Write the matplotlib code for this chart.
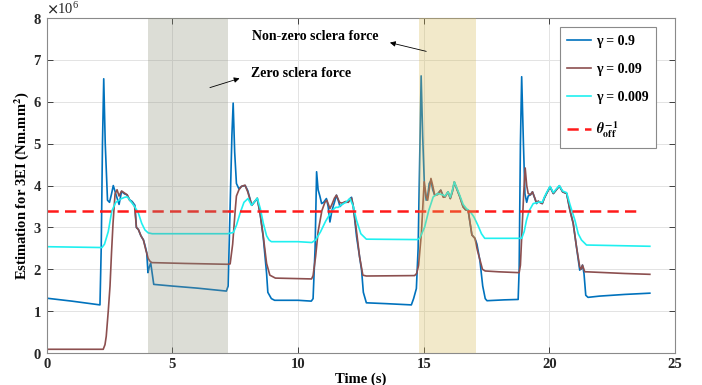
import matplotlib
matplotlib.use("Agg")
import matplotlib.pyplot as plt
import numpy as np
from matplotlib.ticker import ScalarFormatter

plt.rcParams['font.family'] = ['Liberation Serif', 'DejaVu Serif']
plt.rcParams['mathtext.fontset'] = 'stix'
plt.rcParams['font.weight'] = 'bold'

# gamma = 0.9 (values in 1e6)
t_g1 = [0, 1.0, 2.12, 2.17, 2.22, 2.27, 2.33, 2.42, 2.5, 2.58, 2.65, 2.75, 2.88, 2.98, 3.1,
        3.2, 3.3, 3.4, 3.51, 3.57, 3.65, 3.75, 3.85, 3.92, 3.98, 4.03, 4.08, 4.14, 4.2, 4.26,
        5.0, 6.0, 7.15, 7.22, 7.3, 7.37, 7.42, 7.48, 7.55, 7.65, 7.75, 7.9, 8.0, 8.16, 8.28,
        8.38, 8.5, 8.62, 8.75, 8.8, 8.94, 9.07, 10.0, 10.53, 10.6, 10.68, 10.74, 10.8, 10.87,
        10.94, 11.02, 11.13, 11.2, 11.27, 11.35, 11.45, 11.53, 11.6, 11.67, 11.75, 11.85, 11.95,
        12.05, 12.13, 12.2, 12.33, 12.45, 12.53, 12.6, 12.72, 13.5, 14.51, 14.6, 14.71, 14.78,
        14.84, 14.9, 14.96, 15.03, 15.1, 15.16, 15.22, 15.29, 15.36, 15.44, 15.55, 15.68, 15.78,
        15.85, 15.97, 16.06, 16.14, 16.22, 16.3, 16.44, 16.57, 16.67, 16.77, 16.85, 16.92, 17.04,
        17.12, 17.24, 17.35, 17.45, 17.52, 18.2, 18.76, 18.8, 18.85, 18.9, 18.97, 19.03, 19.1,
        19.16, 19.25, 19.33, 19.42, 19.49, 19.56, 19.62, 19.72, 19.8, 19.89, 20.03, 20.16, 20.28,
        20.4, 20.53, 20.69, 20.82, 20.95, 21.08, 21.21, 21.27, 21.32, 21.38, 21.45, 21.54, 22.0,
        23.0, 24.0]
v_g1 = [1.31, 1.24, 1.15, 2.5, 5.0, 6.55, 5.0, 3.65, 3.6, 3.8, 4.0, 3.8, 3.55, 3.86, 3.8,
        3.78, 3.66, 3.62, 3.53, 3.0, 2.95, 2.8, 2.7, 2.55, 2.4, 1.92, 2.05, 2.15, 1.9, 1.64,
        1.6, 1.55, 1.48, 1.6, 3.5, 5.2, 5.97, 4.8, 4.05, 3.92, 3.98, 4.0, 3.88, 3.53, 3.62,
        3.68, 3.3, 2.75, 1.9, 1.45, 1.3, 1.26, 1.26, 1.24, 1.3, 2.5, 4.33, 3.9, 3.75,
        3.57, 3.6, 3.69, 3.5, 3.13, 3.4, 3.6, 3.77, 3.65, 3.5, 3.55, 3.6, 3.6,
        3.68, 3.72, 3.5, 2.78, 2.3, 1.98, 1.45, 1.2, 1.18, 1.15, 1.3, 1.54, 2.5,
        4.5, 6.62, 5.2, 4.0, 3.65, 3.75, 4.05, 4.12, 3.9, 3.77, 3.8, 3.89, 3.75,
        3.73, 3.85, 3.69, 3.85, 4.07, 3.95, 3.73, 3.49, 3.42, 3.41, 3.1, 2.82, 2.74,
        2.6, 2.2, 1.6, 1.3, 1.25, 1.27, 1.28, 2.0, 5.0, 6.6, 5.0, 3.8, 3.6,
        3.75, 3.78, 3.85, 3.7, 3.57, 3.62, 3.6, 3.57, 3.7, 3.81, 3.97, 3.81, 3.9,
        3.99, 3.85, 3.81, 3.41, 3.1, 2.54, 1.98, 2.02, 2.1, 1.9, 1.38, 1.33, 1.36,
        1.4, 1.43]

# gamma = 0.09
t_g2 = [0, 2.25, 2.32, 2.37, 2.45, 2.52, 2.58, 2.64, 2.72, 2.8, 2.88, 2.98, 3.1, 3.2, 3.3,
        3.4, 3.5, 3.57, 3.65, 3.75, 3.85, 3.95, 4.04, 4.1, 4.18, 5.5, 7.2, 7.3, 7.4, 7.5,
        7.55, 7.65, 7.75, 7.89, 8.0, 8.16, 8.28, 8.38, 8.5, 8.62, 8.75, 8.88, 9.1, 10.54, 10.6,
        10.7, 10.8, 10.95, 11.07, 11.15, 11.27, 11.35, 11.45, 11.53, 11.65, 11.75, 11.9, 12.0,
        12.13, 12.2, 12.33, 12.45, 12.58, 12.72, 14.64, 14.72, 14.8, 14.91, 15.02, 15.1, 15.16,
        15.22, 15.29, 15.36, 15.44, 15.55, 15.68, 15.78, 15.85, 15.97, 16.06, 16.14, 16.22, 16.3,
        16.44, 16.57, 16.67, 16.77, 16.85, 16.92, 17.04, 17.14, 17.24, 17.34, 17.45, 18.0, 18.8,
        18.85, 18.92, 18.98, 19.04, 19.1, 19.16, 19.25, 19.33, 19.42, 19.49, 19.56, 19.62, 19.72,
        19.8, 19.89, 20.03, 20.16, 20.28, 20.4, 20.53, 20.69, 20.82, 20.95, 21.08, 21.21, 21.27,
        21.32, 21.41, 21.5, 23.0, 24.0]
v_g2 = [0.09, 0.09, 0.2, 0.4, 1.0, 1.6, 2.4, 3.1, 3.8, 3.9, 3.75, 3.87, 3.82, 3.78, 3.65,
        3.6, 3.5, 3.0, 2.95, 2.8, 2.7, 2.45, 2.26, 2.2, 2.16, 2.14, 2.12, 2.13, 2.6, 3.4,
        3.75, 3.9, 3.98, 4.01, 3.85, 3.53, 3.62, 3.7, 3.3, 2.78, 2.14, 1.86, 1.79, 1.77, 1.85,
        2.3, 2.9, 3.4, 3.6, 3.65, 3.45, 3.55, 3.7, 3.77, 3.6, 3.58, 3.62, 3.6,
        3.7, 3.5, 2.9, 2.3, 1.86, 1.84, 1.85, 1.9, 2.1, 2.86, 4.09, 3.75, 3.65,
        3.9, 4.17, 4.0, 3.77, 3.78, 3.89, 3.72, 3.73, 3.85, 3.69, 3.85, 4.09, 3.95,
        3.73, 3.49, 3.42, 3.41, 3.1, 2.82, 2.74, 2.45, 2.22, 2.0, 1.96, 1.94, 1.92,
        2.1, 3.0, 3.8, 4.42, 4.0, 3.81, 3.78, 3.85, 3.7, 3.59, 3.63, 3.6, 3.57,
        3.7, 3.81, 3.97, 3.81, 3.9, 3.99, 3.85, 3.81, 3.41, 3.1, 2.54, 2.06, 2.0,
        2.1, 1.94, 1.94, 1.9, 1.88]

# gamma = 0.009
t_g3 = [0, 2.2, 2.3, 2.45, 2.59, 2.75, 2.95, 3.1, 3.21, 3.35, 3.5, 3.65, 3.78, 3.91, 4.04,
        4.2, 7.2, 7.43, 7.55, 7.7, 7.85, 8.01, 8.15, 8.25, 8.38, 8.5, 8.62, 8.75, 8.85, 8.94,
        10.0, 10.55, 10.7, 10.9, 11.1, 11.34, 11.5, 11.6, 11.75, 11.9, 12.07, 12.2, 12.33, 12.5,
        12.72, 14.75, 14.85, 15.04, 15.2, 15.38, 15.58, 15.75, 15.85, 15.97, 16.06, 16.14, 16.22,
        16.3, 16.44, 16.57, 16.7, 16.85, 17.0, 17.16, 17.3, 17.43, 18.9, 19.0, 19.09, 19.2,
        19.36, 19.62, 19.72, 19.8, 19.89, 20.03, 20.16, 20.28, 20.4, 20.53, 20.69, 20.82, 21.02,
        21.15, 21.28, 21.48, 24.0]
v_g3 = [2.54, 2.52, 2.6, 2.9, 3.39, 3.6, 3.68, 3.72, 3.73, 3.62, 3.5, 3.34, 3.1, 2.94, 2.87,
        2.85, 2.85, 2.88, 3.05, 3.35, 3.6, 3.69, 3.53, 3.6, 3.7, 3.45, 3.1, 2.8, 2.7, 2.66,
        2.66, 2.64, 2.7, 2.9, 3.15, 3.39, 3.48, 3.48, 3.55, 3.6, 3.69, 3.5, 3.17, 2.85,
        2.72, 2.71, 2.75, 3.01, 3.4, 3.73, 3.81, 3.78, 3.75, 3.85, 3.72, 3.88, 4.09,
        3.97, 3.76, 3.55, 3.45, 3.38, 3.25, 3.05, 2.85, 2.74, 2.74, 2.9, 3.17, 3.4,
        3.57, 3.61, 3.6, 3.72, 3.83, 3.98, 3.83, 3.92, 4.0, 3.87, 3.83, 3.55, 3.17,
        2.85, 2.7, 2.58, 2.55]

theta_off = 3.4
theta_span = [0, 23.7]
zero_force = [4.02, 7.2]
nonzero_force = [14.8, 17.1]
labels = ['γ = 0.9', 'γ = 0.09', 'γ = 0.009', r'$\theta^{\mathbf{-1}}_{\mathbf{off}}$']
colors = ['#0072BD', '#8C4F4F', '#1FF0F0', '#FF1A1A']

fig = plt.figure(figsize=(7.02, 3.85), dpi=100)
ax = fig.add_axes([0.0665, 0.083, 0.895, 0.87])

scale = 1e6
ax.plot(t_g1, np.array(v_g1) * scale, color=colors[0], lw=1.2, label=labels[0])
ax.plot(t_g2, np.array(v_g2) * scale, color=colors[1], lw=1.2, label=labels[1])
ax.plot(t_g3, np.array(v_g3) * scale, color=colors[2], lw=1.2, label=labels[2])
ax.plot(theta_span, [theta_off * scale] * 2, color=colors[3], lw=1.8, dashes=(4.5, 2.5),
        label=labels[3])

# shaded regions drawn over the lines, like the original
ax.axvspan(*zero_force, color='#8C8F7A', alpha=0.3, lw=0, zorder=3)
ax.axvspan(*nonzero_force, color='#D4B850', alpha=0.3, lw=0, zorder=3)

ax.set_xlim(0, 25)
ax.set_ylim(0, 8e6)
ax.set_xticks(np.arange(0, 26, 5))
ax.set_yticks(np.arange(0, 9) * 1e6)
fmt = ScalarFormatter(useMathText=True)
fmt.set_powerlimits((0, 0))
ax.yaxis.set_major_formatter(fmt)
ax.yaxis.get_offset_text().set_fontsize(10.5)
ax.yaxis.get_offset_text().set_fontweight('normal')

ax.grid(True, color='#E3E3E3', lw=0.7)
ax.set_axisbelow(True)
ax.tick_params(direction='in', top=True, right=True, labelsize=10.5, colors='#262626',
               length=4, width=0.6)
for lab in ax.get_xticklabels() + ax.get_yticklabels():
    lab.set_fontweight('bold')
for s in ax.spines.values():
    s.set_color('#8A8A8A')
    s.set_linewidth(0.8)

ax.set_xlabel('Time (s)', fontsize=10.5, fontweight='bold', labelpad=1)
ax.set_ylabel(r'Estimation for 3EI (Nm.mm$^{\mathbf{2}}$)', fontsize=10.5, fontweight='bold',
              labelpad=1.5)

arrow = dict(arrowstyle='-|>', color='black', lw=0.6, mutation_scale=8)
ax.annotate('', xy=(13.55, 7.43e6), xytext=(15.21, 7.19e6), arrowprops=arrow)
ax.text(10.68, 7.57e6, 'Non-zero sclera force', fontsize=10, fontweight='bold',
        ha='center', va='center')
ax.annotate('', xy=(7.78, 6.58e6), xytext=(6.39, 6.32e6), arrowprops=arrow)
ax.text(10.14, 6.67e6, 'Zero sclera force', fontsize=10, fontweight='bold',
        ha='center', va='center')

leg = ax.legend(loc='upper right', bbox_to_anchor=(0.97, 0.973), borderaxespad=0,
                handlelength=1.7, handletextpad=0.35, labelspacing=1.1, borderpad=0.55,
                fancybox=False, framealpha=1, edgecolor='#8A8A8A',
                prop={'weight': 'bold', 'size': 10})
leg.get_frame().set_linewidth(0.8)

fig.savefig('out.png', dpi=100)
